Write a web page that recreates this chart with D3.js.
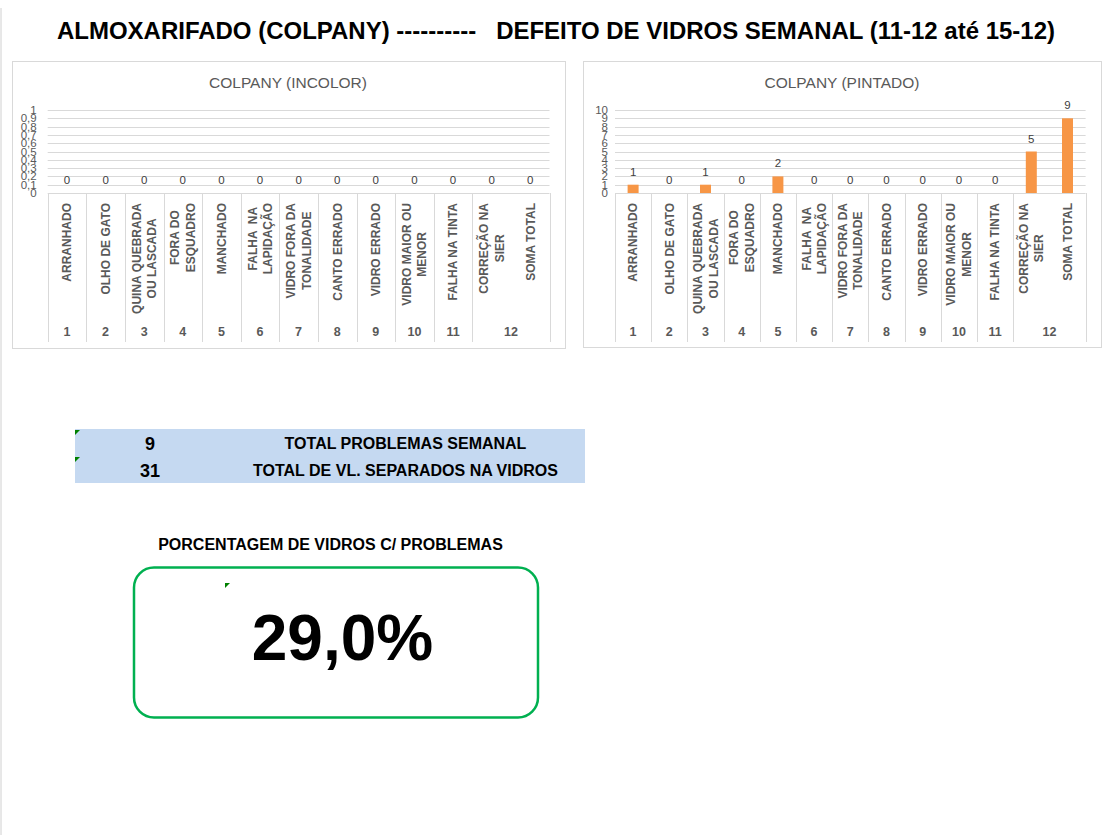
<!DOCTYPE html>
<html>
<head>
<meta charset="utf-8">
<script src="https://cdn.jsdelivr.net/npm/d3@7"></script>
<style>
  html, body { margin: 0; padding: 0; background: #fff; }
  svg { display: block; }
</style>
</head>
<body>
<svg id="root" width="1112" height="835"></svg>
<script>
// ---------------- DATA ----------------
const pageTitle = "ALMOXARIFADO (COLPANY) ----------   DEFEITO DE VIDROS SEMANAL (11-12 até 15-12)";
const categoryLines = [
  ["ARRANHADO"],
  ["OLHO DE GATO"],
  ["QUINA QUEBRADA", "OU LASCADA"],
  ["FORA DO", "ESQUADRO"],
  ["MANCHADO"],
  ["FALHA  NA", "LAPIDAÇÃO"],
  ["VIDRO FORA DA", "TONALIDADE"],
  ["CANTO ERRADO"],
  ["VIDRO ERRADO"],
  ["VIDRO MAIOR OU", "MENOR"],
  ["FALHA NA TINTA"],
  ["CORREÇÃO NA", "SIER"],
  ["SOMA TOTAL"]
];
const groupLabels = ["1","2","3","4","5","6","7","8","9","10","11","12"];
const categoryGroup = [0,1,2,3,4,5,6,7,8,9,10,11,11];
const incolorTitle = "COLPANY (INCOLOR)";
const incolorValues = [0,0,0,0,0,0,0,0,0,0,0,0,0];
const incolorTicks = [0,0.1,0.2,0.3,0.4,0.5,0.6,0.7,0.8,0.9,1];
const incolorTickLabels = ["0","0,1","0,2","0,3","0,4","0,5","0,6","0,7","0,8","0,9","1"];
const pintadoTitle = "COLPANY (PINTADO)";
const pintadoValues = [1,0,1,0,2,0,0,0,0,0,0,5,9];
const pintadoTicks = [0,1,2,3,4,5,6,7,8,9,10];
const pintadoTickLabels = ["0","1","2","3","4","5","6","7","8","9","10"];
const summaryValues = [9, 31];
const summaryLabels = ["TOTAL PROBLEMAS SEMANAL", "TOTAL DE VL. SEPARADOS NA VIDROS"];
const percentTitle = "PORCENTAGEM DE VIDROS C/ PROBLEMAS";

// ---------------- DRAW ----------------
const svg = d3.select("#root");

// page border (light)
svg.append("line").attr("x1", 1).attr("x2", 1).attr("y1", 8).attr("y2", 835)
  .attr("stroke", "#d0d0d0").attr("stroke-width", 1);

// main title
svg.append("text")
  .attr("x", 556).attr("y", 39)
  .attr("text-anchor", "middle")
  .attr("font-family", "'Liberation Sans Narrow','Arial Narrow','Liberation Sans',Arial,sans-serif")
  .attr("font-weight", "bold")
  .attr("font-size", 23)
  .attr("textLength", 998)
  .attr("lengthAdjust", "spacingAndGlyphs")
  .attr("fill", "#000")
  .style("white-space", "pre")
  .text(pageTitle);

function drawChart(cfg) {
  const g = svg.append("g");
  g.append("rect")
    .attr("x", cfg.box[0] + 0.5).attr("y", cfg.box[1] + 0.5)
    .attr("width", cfg.box[2]).attr("height", cfg.box[3])
    .attr("fill", "#fff").attr("stroke", "#d9d9d9").attr("stroke-width", 1);

  g.append("text")
    .attr("x", cfg.titleX).attr("y", 88)
    .attr("text-anchor", "middle")
    .attr("font-family", "'Liberation Sans',Arial,sans-serif")
    .attr("font-size", 15.5)
    .attr("fill", "#595959")
    .text(cfg.title);

  const x = d3.scaleBand().domain(d3.range(cfg.values.length))
    .range([cfg.x0, cfg.x1]).paddingInner(0).paddingOuter(0);
  const y = d3.scaleLinear().domain([0, d3.max(cfg.ticks)]).range([193, 110]);

  // gridlines
  g.selectAll("line.grid").data(cfg.ticks).join("line")
    .attr("x1", cfg.x0).attr("x2", cfg.x1)
    .attr("y1", d => Math.round(y(d)) + 0.5).attr("y2", d => Math.round(y(d)) + 0.5)
    .attr("stroke", "#d9d9d9").attr("stroke-width", 1);

  // y tick labels (overlapping, as in the reference)
  g.selectAll("text.ytick").data(cfg.ticks).join("text")
    .attr("x", cfg.x0 - cfg.tickGap).attr("y", d => y(d) + 4)
    .attr("text-anchor", "end")
    .attr("font-family", "'Liberation Sans',Arial,sans-serif")
    .attr("font-size", 11.5)
    .attr("fill", "#595959")
    .text((d, i) => cfg.tickLabels[i]);

  // group separators
  const groupStarts = groupLabels.map((gl, gi) => categoryGroup.indexOf(gi));
  const sepX = groupStarts.map(i => x(i)).concat([cfg.x1]);
  g.selectAll("line.sep").data(sepX).join("line")
    .attr("x1", d => Math.round(d) + 0.5).attr("x2", d => Math.round(d) + 0.5)
    .attr("y1", 193).attr("y2", 342)
    .attr("stroke", "#d9d9d9").attr("stroke-width", 1);

  // bars
  const bw = 11;
  g.selectAll("rect.bar").data(cfg.values).join("rect")
    .attr("x", (d, i) => x(i) + x.bandwidth() / 2 - bw / 2)
    .attr("y", d => y(d))
    .attr("width", bw)
    .attr("height", d => y(0) - y(d))
    .attr("fill", "#F79646");

  // data labels
  g.selectAll("text.dl").data(cfg.values).join("text")
    .attr("x", (d, i) => x(i) + x.bandwidth() / 2)
    .attr("y", d => y(d) - 9)
    .attr("text-anchor", "middle")
    .attr("font-family", "'Liberation Sans',Arial,sans-serif")
    .attr("font-size", 11.5)
    .attr("fill", "#404040")
    .text(d => d);

  // category labels (rotated, top-aligned, lines centred)
  const lineH = 15.5;
  categoryLines.forEach((lines, i) => {
    const cx = x(i) + x.bandwidth() / 2;
    const t = g.append("text")
      .attr("text-anchor", "middle")
      .attr("font-family", "'Liberation Sans',Arial,sans-serif")
      .attr("font-weight", "bold")
      .attr("font-size", 12)
      .attr("fill", "#595959")
      .style("white-space", "pre");
    lines.forEach((ln, k) => {
      t.append("tspan").attr("x", 0)
        .attr("y", (k - (lines.length - 1) / 2) * lineH + 4.3)
        .text(ln);
    });
    let maxW = 0;
    t.selectAll("tspan").each(function() { maxW = Math.max(maxW, this.getComputedTextLength()); });
    const cy = 203 + maxW / 2;
    t.attr("transform", `translate(${cx},${cy}) rotate(-90)`);
  });

  // group labels
  groupLabels.forEach((gl, gi) => {
    const idx = d3.range(categoryGroup.length).filter(i => categoryGroup[i] === gi);
    const cx = d3.mean(idx, i => x(i) + x.bandwidth() / 2);
    g.append("text")
      .attr("x", cx).attr("y", 336)
      .attr("text-anchor", "middle")
      .attr("font-family", "'Liberation Sans',Arial,sans-serif")
      .attr("font-weight", "bold")
      .attr("font-size", 12.5)
      .attr("fill", "#595959")
      .text(gl);
  });
}

drawChart({box: [12, 61, 553, 287], title: incolorTitle, titleX: 288,
  x0: 47.7, x1: 549.5, tickGap: 11, values: incolorValues, ticks: incolorTicks, tickLabels: incolorTickLabels});
drawChart({box: [583, 61, 518, 286], title: pintadoTitle, titleX: 842,
  x0: 615, x1: 1085.6, tickGap: 7, values: pintadoValues, ticks: pintadoTicks, tickLabels: pintadoTickLabels});

// summary table
const rowY = d3.scaleBand().domain(d3.range(summaryValues.length)).range([429, 483]);
svg.append("rect").attr("x", 75).attr("y", 429).attr("width", 510).attr("height", 54)
  .attr("fill", "#C5D9F1");
summaryValues.forEach((v, i) => {
  const yb = rowY(i) + rowY.bandwidth() / 2 + 6;
  svg.append("text").attr("x", 150).attr("y", yb + 1)
    .attr("text-anchor", "middle")
    .attr("font-family", "'Liberation Sans',Arial,sans-serif")
    .attr("font-weight", "bold").attr("font-size", 18).attr("fill", "#000")
    .text(v);
  svg.append("text").attr("x", 405.5).attr("y", yb)
    .attr("text-anchor", "middle")
    .attr("font-family", "'Liberation Sans',Arial,sans-serif")
    .attr("font-weight", "bold").attr("font-size", 16).attr("fill", "#000")
    .text(summaryLabels[i]);
  const ty = rowY(i) + 1;
  svg.append("path").attr("d", `M75,${ty}L80,${ty}L75,${ty + 5}Z`).attr("fill", "#008000");
});

// percentage
svg.append("text").attr("x", 330.5).attr("y", 550)
  .attr("text-anchor", "middle")
  .attr("font-family", "'Liberation Sans',Arial,sans-serif")
  .attr("font-weight", "bold").attr("font-size", 16).attr("fill", "#000")
  .text(percentTitle);
svg.append("rect").attr("x", 134).attr("y", 567.5).attr("width", 404).attr("height", 150)
  .attr("rx", 20).attr("ry", 20)
  .attr("fill", "none").attr("stroke", "#00B050").attr("stroke-width", 2.5);
svg.append("path").attr("d", "M225,583L230,583L225,588Z").attr("fill", "#008000");
const pctFmt = d3.formatLocale({decimal: ",", thousands: ".", grouping: [3], currency: ["", ""]}).format(".1%");
svg.append("text").attr("x", 342.5).attr("y", 660)
  .attr("text-anchor", "middle")
  .attr("font-family", "'Liberation Sans',Arial,sans-serif")
  .attr("font-weight", "bold").attr("font-size", 64).attr("fill", "#000")
  .text(pctFmt(summaryValues[0] / summaryValues[1]));
</script>
</body>
</html>
